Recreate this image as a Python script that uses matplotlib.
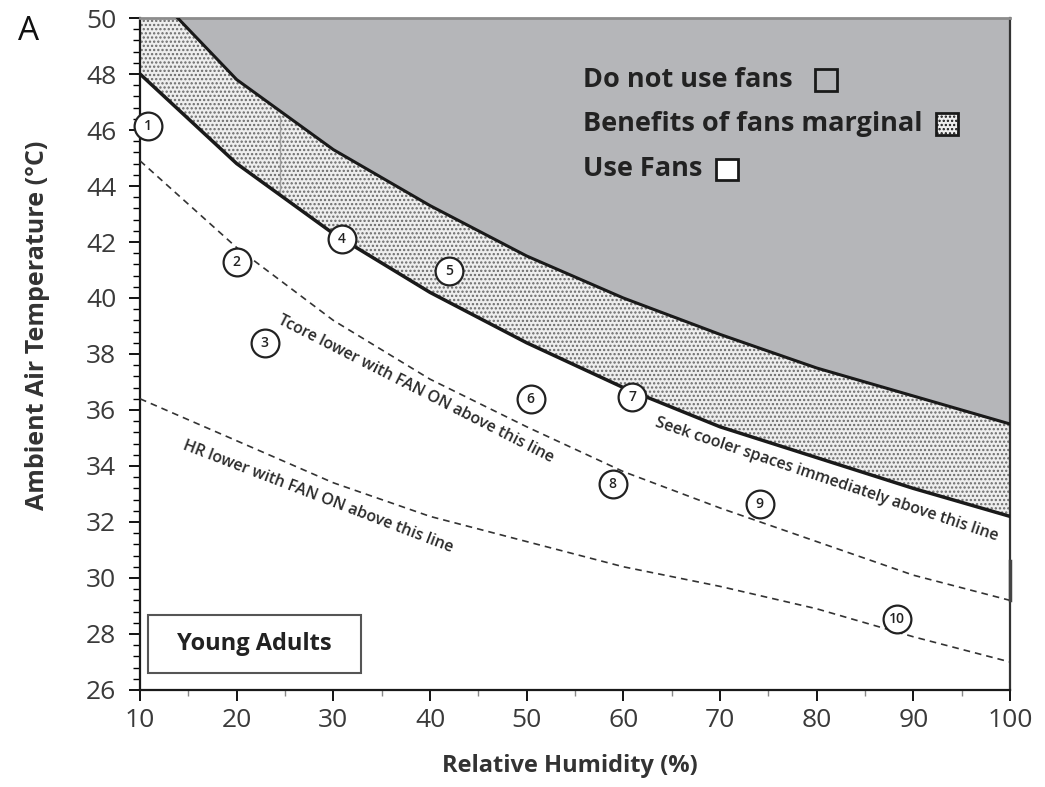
import numpy as np
import matplotlib
matplotlib.use("Agg")
import matplotlib.pyplot as plt
from matplotlib.patches import Rectangle

plt.rcParams['font.family'] = ['Open Sans', 'DejaVu Sans']
plt.rcParams['hatch.linewidth'] = 1.1
plt.rcParams['hatch.color'] = '#6a6a6a'

# Relative humidity (%) at which each line was read
rh = [10, 20, 30, 40, 50, 60, 70, 80, 90, 100]

# Upper boundary (do not use fans above), starts at the top edge
rh_upper = [13.9, 20, 30, 40, 50, 60, 70, 80, 90, 100]
t_upper = [50.0, 47.8, 45.3, 43.3, 41.5, 40.0, 38.7, 37.5, 36.5, 35.5]

# Seek cooler spaces line (lower edge of the marginal band)
t_seek = [48.0, 44.8, 42.3, 40.2, 38.4, 36.8, 35.4, 34.3, 33.2, 32.2]

# Tcore lower with fan on
t_tcore = [44.9, 41.8, 39.2, 37.1, 35.4, 33.8, 32.5, 31.3, 30.1, 29.2]

# HR lower with fan on
t_hr = [36.4, 34.9, 33.4, 32.2, 31.3, 30.4, 29.7, 28.9, 27.9, 27.0]

# numbered conditions
pt_rh = [10.8, 20.0, 22.9, 30.9, 42.0, 50.4, 60.9, 58.9, 74.1, 88.3]
pt_t = [46.15, 41.3, 38.4, 42.1, 40.95, 36.4, 36.45, 33.35, 32.65, 28.55]
pt_lab = ['1', '2', '3', '4', '5', '6', '7', '8', '9', '10']

fig = plt.figure(figsize=(10.45, 7.87), dpi=100)
ax = fig.add_axes([0.134, 0.1233, 0.8325, 0.8538])

# regions
ax.fill_between(rh, t_seek, 50, facecolor='#eeeeee', hatch='....',
                edgecolor='#6a6a6a', linewidth=0, zorder=1)
ax.fill_between(rh_upper, t_upper, 50, facecolor='#b5b6b9', linewidth=0, zorder=2)

# faint line inside the stippled band
ax.plot([24.5, 24.5], [43.8, 46.5], color='#a0a0a0', lw=1, zorder=2)
# dark mark on the right edge
ax.plot([100, 100], [29.2, 30.6], color='#444444', lw=2.5, zorder=5, clip_on=False)

ax.plot(rh_upper, t_upper, color='#1a1a1a', lw=2.2, zorder=3)
ax.plot(rh, t_seek, color='#1a1a1a', lw=2.5, zorder=3)
ax.plot(rh, t_tcore, color='#333333', lw=1.2, ls=(0, (4, 3)), zorder=3)
ax.plot(rh, t_hr, color='#333333', lw=1.2, ls=(0, (4, 3)), zorder=3)

# circled numbers
ax.plot(pt_rh, pt_t, 'o', ms=20, mfc='white', mec='#222222', mew=1.6,
        ls='none', zorder=6, clip_on=False)
for x, y, s in zip(pt_rh, pt_t, pt_lab):
    ax.text(x, y, s, ha='center', va='center', fontsize=10, fontweight='semibold',
            color='#222222', zorder=7)

# line annotations
ann = dict(rotation_mode='anchor', ha='center', va='center', fontsize=11.5,
           fontweight='semibold', color='#2a2a2a', zorder=4)
ax.text(38.5, 36.75, 'Tcore lower with FAN ON above this line', rotation=-27, **ann)
ax.text(28.4, 32.9, 'HR lower with FAN ON above this line', rotation=-21, **ann)
ax.text(81.0, 33.5, 'Seek cooler spaces immediately above this line', rotation=-18.5,
        **ann)

# legend
leg = dict(ha='left', va='center', fontsize=19.5, fontweight='bold',
           color='#222222', zorder=8)
ax.text(55.8, 47.8, 'Do not use fans', **leg)
ax.text(55.8, 46.2, 'Benefits of fans marginal', **leg)
ax.text(55.8, 44.6, 'Use Fans', **leg)
ax.add_patch(Rectangle((79.8, 47.4), 2.3, 0.78, facecolor='#b5b6b9',
                       edgecolor='#1a1a1a', lw=2, zorder=8))
ax.add_patch(Rectangle((92.3, 45.82), 2.3, 0.78, facecolor='#eeeeee', hatch='....',
                       edgecolor='#1a1a1a', lw=2, zorder=8))
ax.add_patch(Rectangle((69.6, 44.2), 2.3, 0.78, facecolor='white',
                       edgecolor='#1a1a1a', lw=2, zorder=8))

# group box
ax.add_patch(Rectangle((10.83, 26.6), 22.0, 2.08, facecolor='white',
                       edgecolor='#555555', lw=1.5, zorder=8))
ax.text(21.8, 27.64, 'Young Adults', ha='center', va='center', fontsize=17,
        fontweight='bold', color='#222222', zorder=9)

ax.set_xlim(10, 100)
ax.set_ylim(26, 50)
ax.set_xticks(np.arange(10, 101, 10))
ax.set_xticks(np.arange(15, 100, 10), minor=True)
ax.set_yticks(np.arange(26, 51, 2))
ax.set_yticks(np.arange(26, 50.01, 0.4), minor=True)
ax.tick_params(axis='both', which='major', length=8, width=1.3, labelsize=19,
               labelcolor='#3a3a3a', direction='out')
ax.tick_params(axis='x', which='minor', length=4, width=1, color='#888888')
ax.tick_params(axis='y', which='minor', length=5, width=1)
ax.tick_params(axis='x', which='major', pad=5)
ax.tick_params(axis='y', which='major', pad=9)

for side in ['left', 'bottom']:
    ax.spines[side].set_linewidth(1.6)
    ax.spines[side].set_color('#1a1a1a')
ax.spines['right'].set_linewidth(1.6)
ax.spines['right'].set_color('#333333')
ax.spines['top'].set_linewidth(2)
ax.spines['top'].set_color('#8c8c8c')

ax.set_xlabel('Relative Humidity (%)', fontsize=17, fontweight='bold', color='#333333')
ax.set_ylabel('Ambient Air Temperature (°C)', fontsize=18, fontweight='bold',
              color='#333333')
ax.xaxis.set_label_coords(0.494, -0.095)
ax.yaxis.set_label_coords(-0.104, 0.543)

fig.text(0.027, 0.96, 'A', fontsize=24, ha='center', va='center', color='#111111')

fig.savefig('out.png', dpi=100)
